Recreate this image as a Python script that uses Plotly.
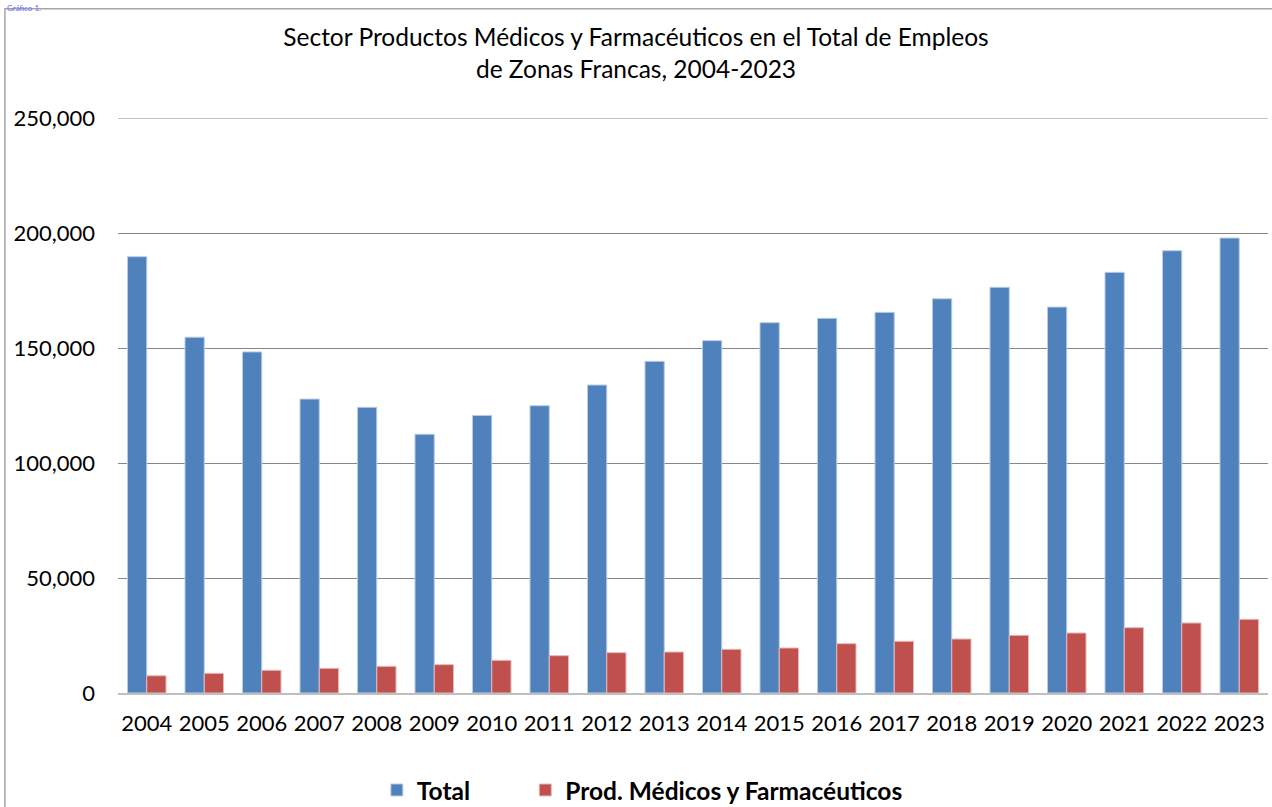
import plotly.graph_objects as go

years = [str(y) for y in range(2004, 2024)]
total = [189700, 154700, 148300, 127800, 124200, 112500, 120700, 124900, 133900, 144200,
         153200, 161000, 162900, 165500, 171400, 176400, 167800, 182900, 192300, 197800]
medicos = [7500, 8550, 9870, 10730, 11600, 12320, 14200, 16230, 17530, 17830,
           19000, 19570, 21450, 22470, 23480, 25070, 26090, 28400, 30440, 32030]

font_family = "Lato, 'Noto Sans', sans-serif"
pad = "&nbsp;" * 8

fig = go.Figure()
fig.add_trace(go.Bar(x=years, y=total, name="<b>Total</b>" + pad, marker_color="#4f81bd",
                     marker_line=dict(color="#b9cde5", width=1)))
fig.add_trace(go.Bar(x=years, y=medicos, name="<b>Prod. Médicos y Farmacéuticos</b>",
                     marker_color="#c0504d", marker_line=dict(color="#e6b9b8", width=1)))

fig.update_layout(
    width=1272, height=807,
    margin=dict(l=118, r=4, t=118, b=114),
    paper_bgcolor="white", plot_bgcolor="white",
    font=dict(family=font_family, color="black"),
    barmode="group", bargap=0.33, bargroupgap=0,
    title=dict(text="Sector Productos Médicos y Farmacéuticos en el Total de Empleos<br>de Zonas Francas, 2004-2023",
               x=0.5, xref="container", xanchor="center", y=0.943, yref="container",
               yanchor="middle",
               font=dict(size=24.5, family=font_family, color="black")),
    legend=dict(orientation="h", x=0.505, xref="container", xanchor="center",
                y=0.021, yref="container", yanchor="middle",
                font=dict(size=24.5, family=font_family), itemwidth=30,
                traceorder="normal"),
    showlegend=True,
)
fig.update_yaxes(range=[0, 250000], dtick=50000, tickformat=",", showgrid=True,
                 gridcolor="#868686", gridwidth=1, zeroline=False, showline=False,
                 ticks="", ticklabelstandoff=22, tickfont=dict(size=22))
fig.update_xaxes(showline=True, linecolor="#bfbfbf", linewidth=2, ticks="",
                 tickfont=dict(size=22), ticklabelstandoff=10)

# top gridline (plotly skips it at the range edge)
fig.add_shape(type="line", xref="paper", yref="y", x0=0, x1=1, y0=250000, y1=250000,
              line=dict(color="#868686", width=1))
# outer chart border, partly cut off like the reference
fig.add_shape(type="rect", xref="paper", yref="paper", x0=-0.0983, x1=1.05, y0=-0.3, y1=1.19,
              line=dict(color="#a6a6a6", width=1.5), fillcolor="rgba(0,0,0,0)", layer="below")
fig.add_annotation(text="Gráfico 1.", xref="paper", yref="paper", x=-0.098, y=1.203,
                   xanchor="left", yanchor="top", showarrow=False,
                   font=dict(size=8, color="#6666ff", family=font_family))

fig.write_html("out.html", config={"displayModeBar": False},
               post_script="document.body.style.margin='0';")
